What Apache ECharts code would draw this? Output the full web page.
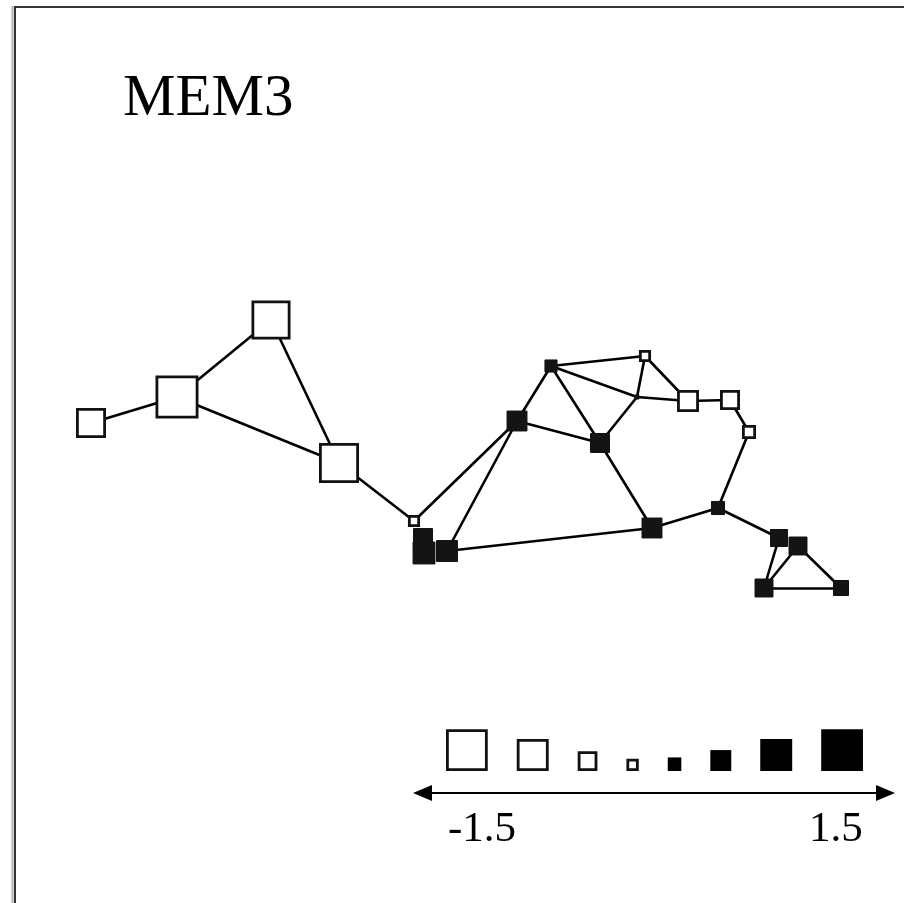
<!DOCTYPE html>
<html>
<head>
<meta charset="utf-8">
<script src="https://cdn.jsdelivr.net/npm/echarts@6/dist/echarts.min.js"></script>
<style>
html,body{margin:0;padding:0;background:#fff;}
#chart{width:904px;height:903px;}
</style>
</head>
<body>
<div id="chart"></div>
<script>
// ---- data ----
const titleText = 'MEM3';
const nodeNames = ['A','B','C','D','J','K','L','M','G','E','F','V','H','I','N','O','P','Q','R','S','T','U'];
const nodeX     = [91, 177, 271, 339, 414, 423, 424, 447, 517, 551, 645, 637, 600, 652, 688, 730, 749, 718, 779, 798, 764, 841];
const nodeY     = [423, 397, 320, 463, 521, 538, 553, 551, 421, 366, 356, 397, 443, 528, 401, 400, 432, 508, 538, 546, 588, 588];
const nodeValue = [-1.02, -1.55, -1.39, -1.43, -0.29, 0.61, 0.73, 0.69, 0.65, 0.33, -0.29, 0.0, 0.61, 0.65, -0.69, -0.61, -0.37, 0.37, 0.53, 0.57, 0.57, 0.45];
const edgeFrom = ['A','B','B','C','D','J','G','G','G','E','E','E','V','V','V','F','N','O','P','Q','Q','M','I','R','S','T','S'];
const edgeTo   = ['B','C','D','D','J','G','M','E','H','H','F','V','N','F','H','N','O','P','Q','I','R','I','H','T','T','U','U'];
const legendValues = [-1.5, -1.1, -0.6, -0.3, 0.35, 0.65, 1.1, 1.5];
const legendTickLabels = ['-1.5', '1.5'];

// ---- helpers ----
function sizeOf(v){ return 5 + 24.5 * Math.abs(v); }
const BW = 2.8;

const chart = echarts.init(document.getElementById('chart'), null, {renderer:'canvas'});

const nodes = nodeNames.map((n, i) => {
  const v = nodeValue[i];
  const pos = v >= 0;
  return {
    name: n,
    value: [nodeX[i], nodeY[i]],
    symbolSize: Math.max(3, sizeOf(v) - (pos ? 1 : BW)),
    itemStyle: {
      color: pos ? '#141414' : '#ffffff',
      borderColor: '#111',
      borderWidth: pos ? 1 : BW
    }
  };
});
const links = edgeFrom.map((s, i) => ({source: s, target: edgeTo[i]}));

// legend layout (equal gaps between squares, bottom aligned)
const legendSizes = legendValues.map(sizeOf);
const legendStart = 446, legendGap = 29, legendBottom = 771;

const serif = '"Liberation Serif","Times New Roman",serif';

chart.setOption({
  animation: false,
  backgroundColor: '#fff',
  title: {
    text: titleText,
    left: 118, top: 65,
    textStyle: {fontFamily: serif, fontSize: 59, fontWeight: 'normal', color: '#000'}
  },
  grid: {left: 0, right: 0, top: 0, bottom: 0},
  xAxis: {type: 'value', min: 0, max: 904, show: false},
  yAxis: {type: 'value', min: 0, max: 903, inverse: true, show: false},
  graphic: [
    // frame
    {type:'line', shape:{x1:12.5, y1:6, x2:12.5, y2:903}, style:{stroke:'#b0b0b0', lineWidth:2}, z:100},
    {type:'line', shape:{x1:15, y1:6, x2:15, y2:903}, style:{stroke:'#333', lineWidth:2}, z:100},
    {type:'line', shape:{x1:14, y1:7, x2:904, y2:7}, style:{stroke:'#333', lineWidth:2}, z:100},
    // scale arrow
    {type:'line', shape:{x1:425, y1:793, x2:883, y2:793}, style:{stroke:'#000', lineWidth:2}, z:100},
    {type:'polygon', shape:{points:[[413,793],[432,785],[432,801]]}, style:{fill:'#000'}, z:100},
    {type:'polygon', shape:{points:[[895,793],[876,785],[876,801]]}, style:{fill:'#000'}, z:100},
    {type:'text', left: 448, top: 808, style:{text: legendTickLabels[0], font: '43px ' + serif, fill:'#000'}, z:100},
    {type:'text', left: 809, top: 808, style:{text: legendTickLabels[1], font: '43px ' + serif, fill:'#000'}, z:100}
  ],
  series: [
    {
      type: 'graph',
      coordinateSystem: 'cartesian2d',
      layout: 'none',
      symbol: 'rect',
      data: nodes,
      links: links,
      lineStyle: {color: '#000', width: 2.6, opacity: 1, curveness: 0},
      label: {show: false},
      emphasis: {disabled: true},
      silent: true,
      z: 2
    },
    {
      type: 'custom',
      coordinateSystem: 'cartesian2d',
      data: legendValues.map((v, i) => [i, v]),
      renderItem: function (params, api) {
        const i = params.dataIndex;
        const v = legendValues[i];
        let x = legendStart;
        for (let k = 0; k < i; k++) x += legendSizes[k] + legendGap;
        const s = legendSizes[i];
        const p0 = api.coord([x, legendBottom - s]);
        const p1 = api.coord([x + s, legendBottom]);
        const pos = v >= 0;
        const bw = pos ? 0 : BW;
        return {
          type: 'rect',
          shape: {x: p0[0] + bw/2, y: p0[1] + bw/2, width: p1[0] - p0[0] - bw, height: p1[1] - p0[1] - bw},
          style: {fill: pos ? '#000' : '#fff', stroke: pos ? null : '#111', lineWidth: bw}
        };
      },
      silent: true,
      z: 3
    }
  ]
});
</script>
</body>
</html>
